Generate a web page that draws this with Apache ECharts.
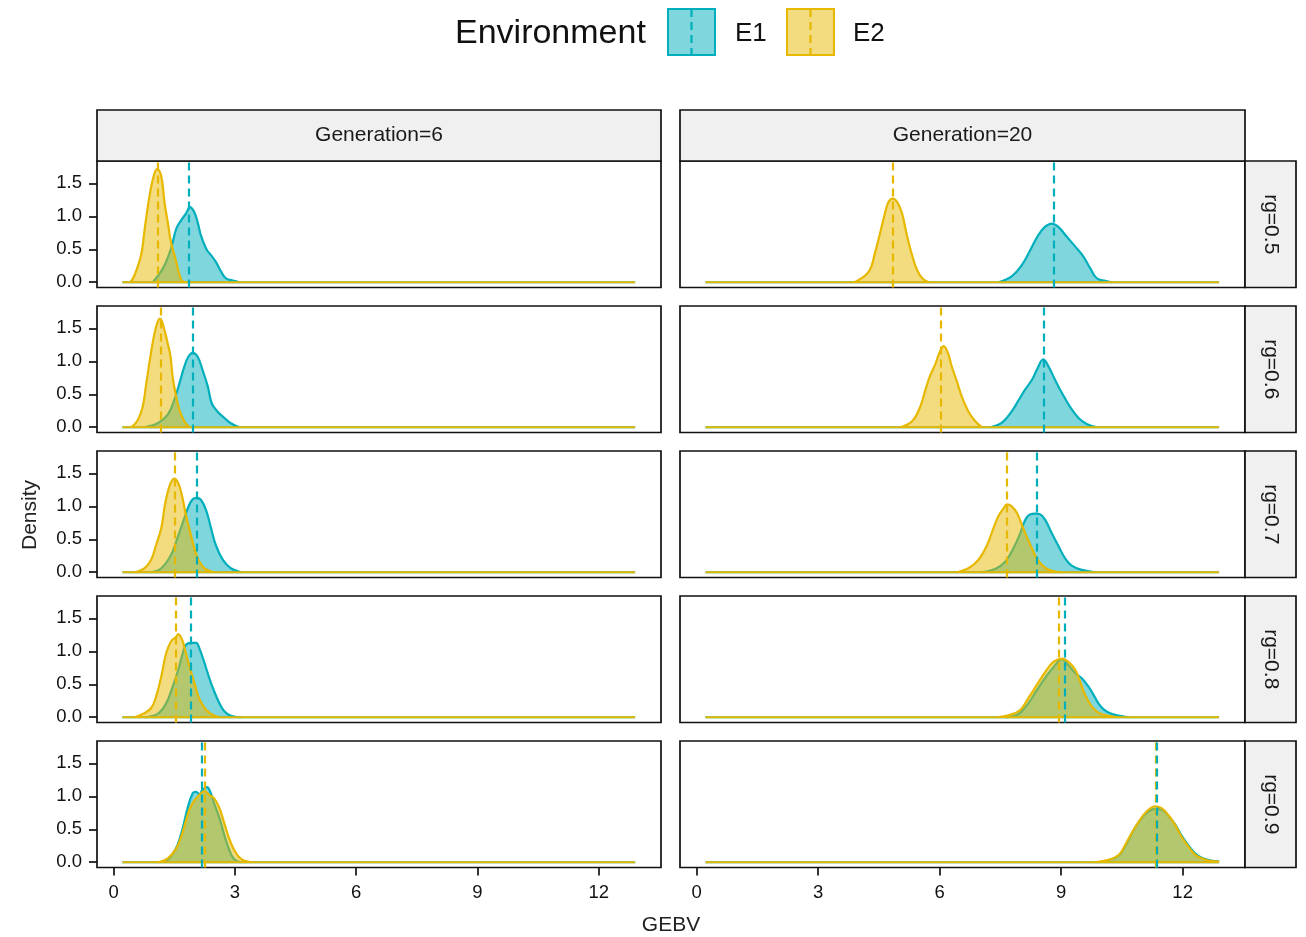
<!DOCTYPE html>
<html>
<head>
<meta charset="utf-8">
<script src="https://cdn.jsdelivr.net/npm/echarts@6/dist/echarts.min.js"></script>
<style>
  html, body { margin: 0; padding: 0; background: #fff; }
  #chart { width: 1306px; height: 937px; }
</style>
</head>
<body>
<div id="chart"></div>
<script>
// facets
const generations = ['Generation=6', 'Generation=20'];
const rgLevels = ['rg=0.5', 'rg=0.6', 'rg=0.7', 'rg=0.8', 'rg=0.9'];
const envs = ['E1', 'E2'];
const xTicks = [0, 3, 6, 9, 12];
const yTicks = [0, 0.5, 1, 1.5];
// the density estimate runs flat at 0 over the whole GEBV range
const gebvRange = [0.22, 12.9];

// density bumps [GEBV, density]
const g6_rg05_E1 = [[0.97,0],[1.22,0.21],[1.42,0.51],[1.55,0.81],[1.67,0.94],[1.79,1.04],[1.89,1.14],[2.0,1.06],[2.08,0.91],[2.16,0.71],[2.29,0.51],[2.41,0.41],[2.53,0.31],[2.66,0.16],[2.78,0.06],[2.98,0.02],[3.1,0]];
const g6_rg05_E2 = [[0.42,0],[0.52,0.11],[0.68,0.41],[0.76,0.76],[0.85,1.16],[0.97,1.56],[1.08,1.72],[1.18,1.61],[1.26,1.21],[1.34,0.91],[1.42,0.61],[1.55,0.31],[1.63,0.11],[1.71,0.01],[1.8,0]];
const g6_rg06_E1 = [[0.76,0],[1.09,0.06],[1.34,0.19],[1.50,0.41],[1.63,0.67],[1.75,0.92],[1.85,1.07],[1.96,1.13],[2.08,1.07],[2.20,0.87],[2.33,0.62],[2.43,0.36],[2.57,0.24],[2.74,0.14],[2.90,0.06],[3.11,0]];
const g6_rg06_E2 = [[0.44,0],[0.60,0.11],[0.72,0.31],[0.81,0.67],[0.91,1.07],[1.01,1.42],[1.09,1.60],[1.15,1.65],[1.26,1.47],[1.34,1.27],[1.41,1.07],[1.46,0.77],[1.55,0.46],[1.63,0.26],[1.75,0.09],[1.87,0]];
const g6_rg07_E1 = [[0.93,0],[1.18,0.06],[1.42,0.26],[1.58,0.52],[1.75,0.82],[1.87,1.02],[1.96,1.11],[2.05,1.13],[2.16,1.10],[2.29,0.94],[2.41,0.67],[2.53,0.41],[2.70,0.19],[2.90,0.06],[3.15,0]];
const g6_rg07_E2 = [[0.52,0],[0.76,0.06],[0.93,0.19],[1.05,0.41],[1.18,0.67],[1.27,1.02],[1.38,1.30],[1.50,1.42],[1.60,1.35],[1.69,1.17],[1.79,0.87],[1.89,0.62],[2.0,0.36],[2.1,0.19],[2.25,0.06],[2.49,0]];
const g6_rg08_E1 = [[0.76,0],[1.09,0.05],[1.30,0.21],[1.46,0.46],[1.60,0.72],[1.71,0.97],[1.79,1.10],[1.92,1.13],[2.04,1.13],[2.12,1.05],[2.25,0.82],[2.37,0.59],[2.49,0.39],[2.62,0.21],[2.74,0.09],[2.90,0.02],[3.15,0]];
const g6_rg08_E2 = [[0.52,0],[0.76,0.06],[0.93,0.14],[1.05,0.31],[1.18,0.62],[1.30,0.97],[1.42,1.15],[1.55,1.22],[1.60,1.26],[1.71,1.15],[1.79,0.97],[1.90,0.72],[2.0,0.52],[2.1,0.31],[2.25,0.14],[2.41,0.05],[2.62,0]];
const g6_rg09_E1 = [[1.26,0],[1.42,0.09],[1.58,0.26],[1.71,0.52],[1.83,0.82],[1.96,1.05],[2.04,1.07],[2.12,1.03],[2.20,1.10],[2.31,1.14],[2.39,1.07],[2.49,0.89],[2.62,0.67],[2.74,0.41],[2.86,0.19],[2.98,0.05],[3.15,0]];
const g6_rg09_E2 = [[1.09,0],[1.34,0.06],[1.55,0.21],[1.71,0.46],[1.87,0.79],[2.0,0.94],[2.12,1.02],[2.25,1.08],[2.37,1.02],[2.49,0.97],[2.62,0.82],[2.74,0.59],[2.86,0.36],[2.98,0.19],[3.15,0.05],[3.40,0]];
const g20_rg05_E1 = [[7.45,0],[7.78,0.09],[8.03,0.26],[8.24,0.49],[8.44,0.72],[8.60,0.84],[8.77,0.89],[8.93,0.84],[9.14,0.69],[9.35,0.54],[9.55,0.39],[9.72,0.21],[9.88,0.06],[10.09,0.02],[10.25,0]];
const g20_rg05_E2 = [[3.90,0],[4.25,0.16],[4.41,0.46],[4.54,0.77],[4.66,1.07],[4.74,1.22],[4.84,1.27],[4.95,1.22],[5.07,1.05],[5.19,0.72],[5.32,0.41],[5.44,0.19],[5.57,0.06],[5.73,0]];
const g20_rg06_E1 = [[7.25,0],[7.54,0.07],[7.78,0.24],[7.95,0.41],[8.11,0.57],[8.28,0.72],[8.40,0.87],[8.56,1.03],[8.69,0.92],[8.85,0.72],[9.02,0.52],[9.22,0.31],[9.43,0.14],[9.63,0.05],[9.88,0]];
const g20_rg06_E2 = [[5.03,0],[5.32,0.09],[5.52,0.31],[5.65,0.57],[5.77,0.79],[5.89,0.95],[5.99,1.12],[6.10,1.23],[6.21,1.12],[6.30,0.92],[6.43,0.69],[6.55,0.46],[6.71,0.24],[6.88,0.09],[7.04,0]];
const g20_rg07_E1 = [[7.0,0],[7.37,0.05],[7.62,0.16],[7.82,0.36],[7.99,0.59],[8.11,0.79],[8.24,0.88],[8.36,0.89],[8.48,0.88],[8.61,0.79],[8.77,0.59],[8.94,0.39],[9.10,0.21],[9.26,0.10],[9.51,0.035],[9.84,0]];
const g20_rg07_E2 = [[6.43,0],[6.71,0.06],[6.96,0.19],[7.17,0.41],[7.33,0.67],[7.45,0.85],[7.58,0.97],[7.66,1.03],[7.78,1.0],[7.91,0.90],[8.03,0.72],[8.15,0.54],[8.28,0.36],[8.40,0.21],[8.56,0.09],[8.77,0.02],[9.02,0]];
const g20_rg08_E1 = [[7.62,0],[7.95,0.05],[8.19,0.21],[8.40,0.41],[8.61,0.60],[8.81,0.76],[9.02,0.88],[9.18,0.79],[9.35,0.67],[9.51,0.59],[9.68,0.46],[9.80,0.34],[9.92,0.21],[10.05,0.12],[10.21,0.06],[10.41,0.025],[10.66,0]];
const g20_rg08_E2 = [[7.45,0],[7.70,0.03],[7.99,0.11],[8.19,0.29],[8.40,0.49],[8.61,0.69],[8.81,0.84],[9.02,0.89],[9.18,0.84],[9.35,0.72],[9.47,0.54],[9.59,0.34],[9.76,0.16],[9.92,0.07],[10.17,0.02],[10.41,0]];
const g20_rg09_E1 = [[9.9,0],[10.17,0.03],[10.42,0.10],[10.58,0.24],[10.74,0.43],[10.91,0.60],[11.11,0.75],[11.32,0.81],[11.48,0.80],[11.64,0.71],[11.81,0.58],[11.97,0.41],[12.14,0.26],[12.30,0.14],[12.47,0.07],[12.67,0.03],[12.9,0.01]];
const g20_rg09_E2 = [[9.84,0],[10.17,0.035],[10.42,0.11],[10.58,0.26],[10.74,0.44],[10.91,0.61],[11.11,0.77],[11.32,0.85],[11.48,0.82],[11.64,0.72],[11.81,0.57],[11.97,0.39],[12.14,0.24],[12.30,0.12],[12.47,0.06],[12.67,0.02],[12.9,0.01]];

// group means (dashed lines), one per rg level
const meansE1_g6 = [1.86, 1.96, 2.05, 1.90, 2.19];
const meansE2_g6 = [1.09, 1.16, 1.51, 1.55, 2.25];
const meansE1_g20 = [8.82, 8.56, 8.40, 9.10, 11.35];
const meansE2_g20 = [4.85, 6.04, 7.66, 8.94, 11.34];

const curves = [
  [[g6_rg05_E1, g6_rg05_E2], [g20_rg05_E1, g20_rg05_E2]],
  [[g6_rg06_E1, g6_rg06_E2], [g20_rg06_E1, g20_rg06_E2]],
  [[g6_rg07_E1, g6_rg07_E2], [g20_rg07_E1, g20_rg07_E2]],
  [[g6_rg08_E1, g6_rg08_E2], [g20_rg08_E1, g20_rg08_E2]],
  [[g6_rg09_E1, g6_rg09_E2], [g20_rg09_E1, g20_rg09_E2]]
];
const means = [[meansE1_g6, meansE2_g6], [meansE1_g20, meansE2_g20]];

const lineColors = ['#00AFBB', '#E7B800'];
const fillColors = ['rgba(0,175,187,0.5)', 'rgba(231,184,0,0.5)'];
const FONT = '"Liberation Sans", Arial, sans-serif';

// panel layout (px)
const colLeft = [97, 680];
const colWidth = [564, 565];
const rowTop = [161, 306, 451, 596, 741];
const rowH = 126.5;
const stripTop = 110;
const stripRight = 1296;

const chart = echarts.init(document.getElementById('chart'));

const grids = [], xAxes = [], yAxes = [], series = [];
rowTop.forEach(function(top, r) {
  colLeft.forEach(function(left, c) {
    const gi = grids.length;
    const bottomRow = r === rowTop.length - 1;
    grids.push({
      left: left, top: top, width: colWidth[c], height: rowH,
      show: true, borderColor: '#111', borderWidth: 1.7, backgroundColor: '#fff'
    });
    xAxes.push({
      type: 'value', gridIndex: gi, min: -0.41, max: 13.54,
      axisLine: { show: false, onZero: false },
      splitLine: { show: false },
      axisTick: { show: bottomRow, length: 8, lineStyle: { color: '#111', width: 1.7 }, customValues: xTicks },
      axisLabel: { show: bottomRow, fontSize: 18.5, color: '#111', fontFamily: FONT, margin: 16, customValues: xTicks }
    });
    yAxes.push({
      type: 'value', gridIndex: gi, min: -0.08, max: 1.84,
      axisLine: { show: false, onZero: false },
      splitLine: { show: false },
      axisTick: { show: c === 0, length: 8, lineStyle: { color: '#111', width: 1.7 }, customValues: yTicks },
      axisLabel: { show: c === 0, fontSize: 18.5, color: '#111', fontFamily: FONT, margin: 15,
        customValues: yTicks, formatter: function(v) { return v.toFixed(1); } }
    });
    envs.forEach(function(env, e) {
      // density bump with its fill
      series.push({
        name: env, type: 'line', xAxisIndex: gi, yAxisIndex: gi,
        data: curves[r][c][e],
        smooth: 0.4, showSymbol: false, silent: true,
        z: 2 + e,
        lineStyle: { color: lineColors[e], width: 2.2 },
        areaStyle: { color: fillColors[e], opacity: 1, origin: 0 },
        markLine: {
          silent: true, symbol: 'none', animation: false, z: 6 - e,
          label: { show: false },
          lineStyle: { color: lineColors[e], width: 2.2, type: [8, 5] },
          data: [{ xAxis: means[c][e][r] }]
        }
      });
      // flat part of the density line
      series.push({
        name: env, type: 'line', xAxisIndex: gi, yAxisIndex: gi,
        data: [[gebvRange[0], 0], [gebvRange[1], 0]],
        showSymbol: false, silent: true, z: 2 + e,
        lineStyle: { color: lineColors[e], width: 2.2 }
      });
    });
  });
});

// strips, legend, axis titles
const graphic = [];
generations.forEach(function(g, c) {
  graphic.push({
    type: 'rect', shape: { x: colLeft[c], y: stripTop, width: colWidth[c], height: rowTop[0] - stripTop },
    style: { fill: '#F0F0F0', stroke: '#111', lineWidth: 1.7 }, z: 10
  });
  graphic.push({
    type: 'text', x: colLeft[c] + colWidth[c] / 2, y: (stripTop + rowTop[0]) / 2,
    style: { text: g, font: '21px ' + FONT, fill: '#1a1a1a', align: 'center', verticalAlign: 'middle' }, z: 11
  });
});
rgLevels.forEach(function(rg, r) {
  const x0 = colLeft[1] + colWidth[1];
  graphic.push({
    type: 'rect', shape: { x: x0, y: rowTop[r], width: stripRight - x0, height: rowH },
    style: { fill: '#F0F0F0', stroke: '#111', lineWidth: 1.7 }, z: 10
  });
  graphic.push({
    type: 'text', x: (x0 + stripRight) / 2, y: rowTop[r] + rowH / 2, rotation: -Math.PI / 2,
    style: { text: rg, font: '21px ' + FONT, fill: '#1a1a1a', align: 'center', verticalAlign: 'middle' }, z: 11
  });
});
graphic.push({
  type: 'text', x: 455, y: 34,
  style: { text: 'Environment', font: '34px ' + FONT, fill: '#111', verticalAlign: 'middle' }
});
const keyX = [668, 787];
const keyText = [735, 853];
envs.forEach(function(env, e) {
  graphic.push({
    type: 'rect', shape: { x: keyX[e], y: 9, width: 47, height: 46 },
    style: { fill: fillColors[e], stroke: lineColors[e], lineWidth: 2 }
  });
  graphic.push({
    type: 'line', shape: { x1: keyX[e] + 23.5, y1: 9, x2: keyX[e] + 23.5, y2: 55 },
    style: { stroke: lineColors[e], lineWidth: 2.2, lineDash: [8, 5] }
  });
  graphic.push({
    type: 'text', x: keyText[e], y: 34,
    style: { text: env, font: '26px ' + FONT, fill: '#111', verticalAlign: 'middle' }
  });
});
graphic.push({
  type: 'text', x: 30, y: 515, rotation: Math.PI / 2,
  style: { text: 'Density', font: '21px ' + FONT, fill: '#222', align: 'center', verticalAlign: 'middle' }
});
graphic.push({
  type: 'text', x: 671, y: 925,
  style: { text: 'GEBV', font: '21px ' + FONT, fill: '#222', align: 'center', verticalAlign: 'middle' }
});

chart.setOption({
  animation: false,
  backgroundColor: '#fff',
  grid: grids,
  xAxis: xAxes,
  yAxis: yAxes,
  series: series,
  graphic: graphic
});
</script>
</body>
</html>
